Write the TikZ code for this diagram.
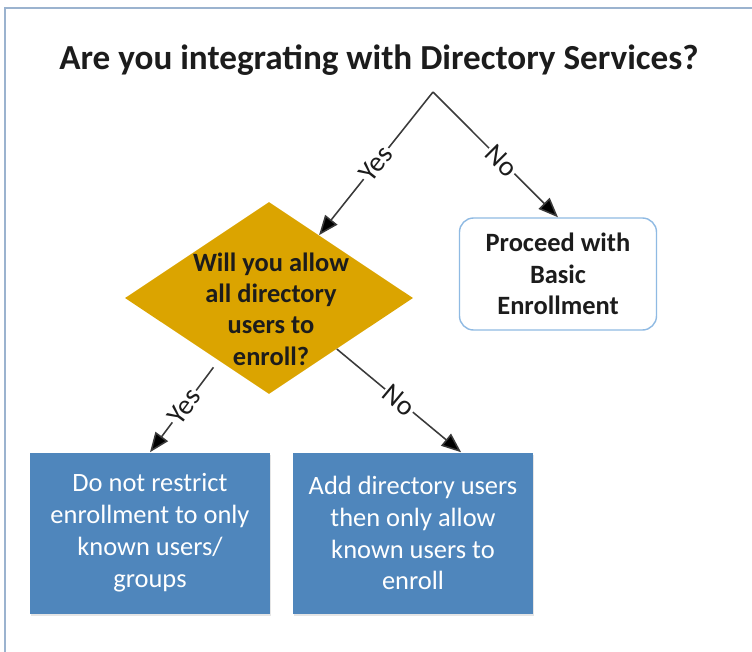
\documentclass[tikz,border=0pt]{standalone}
\usepackage{fontspec}
\setmainfont{Carlito}
\usepackage{xcolor}
\usetikzlibrary{shapes.geometric,arrows.meta,calc,shadows}
\definecolor{DSFrame}{HTML}{9BB3CF}
\definecolor{DSGold}{HTML}{DBA400}
\definecolor{DSBlue}{HTML}{4F86BC}
\definecolor{DSEdge}{HTML}{8FBAE3}
\definecolor{DSLine}{HTML}{3A3A3A}
\definecolor{DSInk}{HTML}{1C1C1C}
\tikzset{
  dsarrow/.style={DSLine,line width=1.1pt,-{Triangle[length=14pt,width=11pt,fill=black]}},
  dslabel/.style={sloped,fill=white,inner sep=1pt,font=\fontsize{20}{22}\selectfont,text=DSInk},
  dsbox/.style={rectangle,fill=DSBlue,minimum width=240*0.025cm,minimum height=161*0.025cm,
    align=center,text=white,font=\fontsize{18.8}{22.7}\selectfont,
    drop shadow={shadow xshift=1pt,shadow yshift=-2pt,opacity=0.2}}
}
\begin{document}
\begin{tikzpicture}[x=0.025cm,y=-0.025cm]
\path[use as bounding box] (0,0) rectangle (752,652);
\fill[white] (0,0) rectangle (752,652);
\draw[DSFrame,line width=1.5pt] (5,652) -- (5,8) -- (752,8);
\node[font=\bfseries\fontsize{25}{28}\selectfont,text=DSInk] (title) at (379,60) {Are you integrating with Directory Services?};
\coordinate (apex) at (433,92);
\node[diamond,fill=DSGold,inner sep=0pt,minimum width=288*0.025cm,minimum height=192*0.025cm] (qshape) at (269,298) {};
\node[align=center,font=\bfseries\fontsize{18.8}{22.2}\selectfont,text=DSInk] (qtext) at (271,309) {Will you allow\\all directory\\users to\\enroll?};
\node[rectangle,draw=DSEdge,line width=1pt,rounded corners=10pt,fill=white,minimum width=197*0.025cm,minimum height=112*0.025cm,
  align=center,font=\bfseries\fontsize{18.8}{22.5}\selectfont,text=DSInk] (proceed) at (558,274) {Proceed with\\Basic\\Enrollment};
\node[dsbox] (restrict) at (150,533) {Do not restrict\\enrollment to only\\known users/\\groups};
\node[dsbox] (adduser) at (413,533) {Add directory users\\then only allow\\known users to\\enroll};
\draw[dsarrow] (apex) -- (qshape) node[dslabel,pos=0.5] {Yes};
\draw[dsarrow] (apex) -- (proceed.north) node[dslabel,pos=0.55] {No};
\draw[dsarrow,shorten <=6pt] ($(qshape.south)!0.35!(qshape.west)$) -- (restrict.north) node[dslabel,pos=0.5] {Yes};
\draw[dsarrow] ($(qshape.south)!0.47!(qshape.east)$) -- ($(adduser.north west)!0.7!(adduser.north east)$) node[dslabel,pos=0.5] {No};
\end{tikzpicture}
\end{document}
